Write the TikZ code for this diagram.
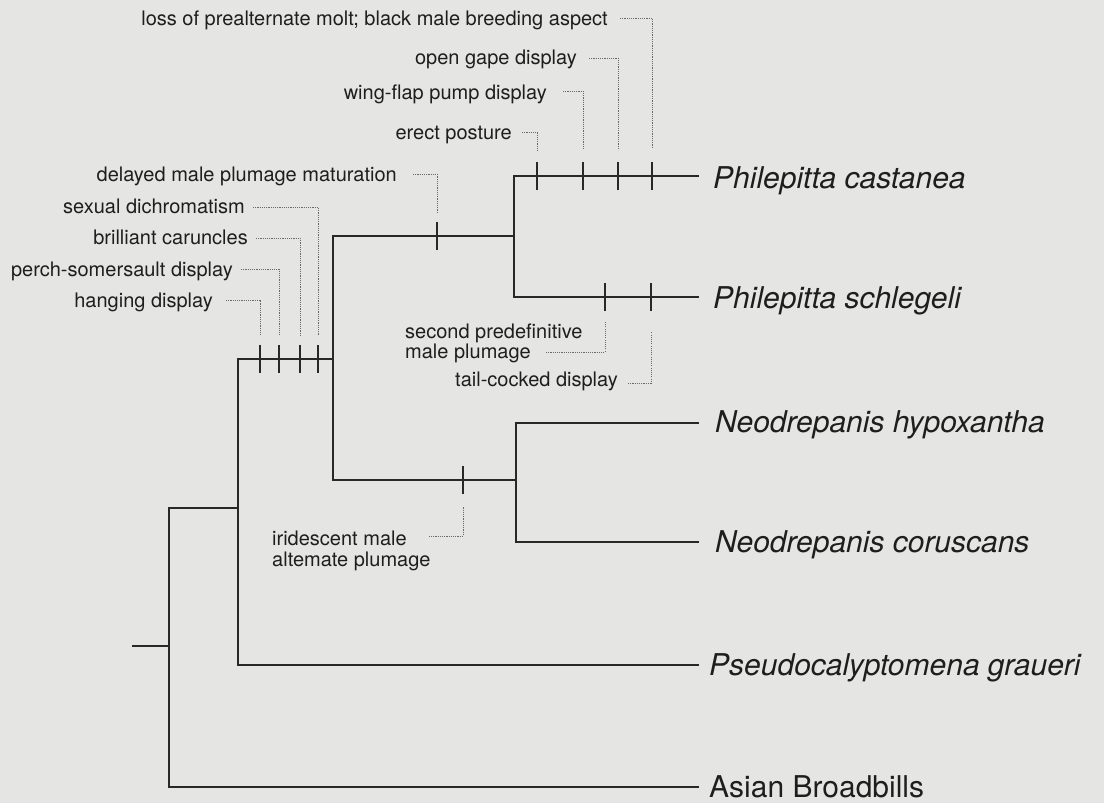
\documentclass[tikz,border=0pt]{standalone}
\usepackage{fontspec}
\setmainfont{TeX Gyre Heros}
\definecolor{bgc}{RGB}{229,229,227}
\definecolor{linec}{RGB}{40,40,40}
\definecolor{textc}{RGB}{30,30,30}
\definecolor{leadc}{RGB}{105,105,105}
\tikzset{
  branch/.style={draw=linec, line width=1.6pt, line cap=rect},
  tickmark/.style={draw=linec, line width=2.6pt},
  leader/.style={draw=leadc, line width=0.9pt, dash pattern=on 1.1pt off 1.1pt},
  trait/.style={font=\fontsize{20}{21}\selectfont, text=textc, inner sep=0pt},
  taxon/.style={font=\fontsize{30}{32}\selectfont\itshape, text=textc, inner sep=0pt, anchor=base west},
  taxonup/.style={font=\fontsize{30}{32}\selectfont, text=textc, inner sep=0pt, anchor=base west},
}
\begin{document}
\begin{tikzpicture}[x=1pt,y=-1pt]
\fill[bgc] (0,0) rectangle (1104,803);
\useasboundingbox (0,0) rectangle (1104,803);

% ---- tree vertices
\coordinate (root) at (133,646);
\coordinate (n0) at (169,646);
\coordinate (n0t) at (169,508);
\coordinate (n0b) at (169,787);
\coordinate (n1m) at (238,508);
\coordinate (n1t) at (238,359);
\coordinate (n1b) at (238,665);
\coordinate (n2l) at (333,359);
\coordinate (n2t) at (333,236);
\coordinate (n2b) at (333,480);
\coordinate (n3l) at (514,236);
\coordinate (n3t) at (514,176);
\coordinate (n3b) at (514,297);
\coordinate (n4l) at (516,480);
\coordinate (n4t) at (516,423);
\coordinate (n4b) at (516,542);
% branch ends
\coordinate (ecas) at (698,176);
\coordinate (esch) at (698,297);
\coordinate (ehyp) at (698,423);
\coordinate (ecor) at (698,542);
\coordinate (epse) at (698,665);
\coordinate (easi) at (698,787);

% ---- taxa
\node[taxon] (cas) at (713,188) {Philepitta castanea};
\node[taxon] (sch) at (713,308) {Philepitta schlegeli};
\node[taxon] (hyp) at (715,432) {Neodrepanis hypoxantha};
\node[taxon] (cor) at (715,552) {Neodrepanis coruscans};
\node[taxon] (pse) at (709,675) {Pseudocalyptomena graueri};
\node[taxonup] (asi) at (709,797) {Asian Broadbills};

% ---- branches
\draw[branch] (root) -- (n0);
\draw[branch] (n0t) -- (n0b);
\draw[branch] (n0t) -- (n1m);
\draw[branch] (n0b) -- (easi);
\draw[branch] (n1t) -- (n1b);
\draw[branch] (n1b) -- (epse);
\draw[branch] (n1t) -- (n2l);
\draw[branch] (n2t) -- (n2b);
\draw[branch] (n2t) -- (n3l);
\draw[branch] (n3t) -- (n3b);
\draw[branch] (n3t) -- (ecas);
\draw[branch] (n3b) -- (esch);
\draw[branch] (n2b) -- (n4l);
\draw[branch] (n4t) -- (n4b);
\draw[branch] (n4t) -- (ehyp);
\draw[branch] (n4b) -- (ecor);

% ---- character ticks
\coordinate (ta) at (260,359);
\coordinate (tb) at (279,359);
\coordinate (tc) at (300,359);
\coordinate (td) at (318,359);
\coordinate (te) at (437,236);
\coordinate (tf) at (537,176);
\coordinate (tg) at (583,176);
\coordinate (th) at (618,176);
\coordinate (ti) at (652,176);
\coordinate (tj) at (605,297);
\coordinate (tk) at (651,297);
\coordinate (tl) at (463,480);
\foreach \t in {ta,tb,tc,td,te,tf,tg,th,ti,tj,tk,tl}
  \draw[tickmark] (\t) ++(0,-14) -- ++(0,28);

% ---- trait labels
\node[trait, anchor=base east] (l1) at (608,25) {loss of prealternate molt; black male breeding aspect};
\node[trait, anchor=base east] (l2) at (577,64) {open gape display};
\node[trait, anchor=base east] (l3) at (547,99) {wing-flap pump display};
\node[trait, anchor=base east] (l4) at (512,139) {erect posture};
\node[trait, anchor=base east] (l5) at (397,181) {delayed male plumage maturation};
\node[trait, anchor=base east] (l6) at (245,213) {sexual dichromatism};
\node[trait, anchor=base east] (l7) at (248,244) {brilliant caruncles};
\node[trait, anchor=base east] (l8) at (233,276) {perch-somersault display};
\node[trait, anchor=base east] (l9) at (213,307) {hanging display};
\node[trait, anchor=base west] (l10a) at (405,338) {second predefinitive};
\node[trait, anchor=base west] (l10b) at (405,358) {male plumage};
\node[trait, anchor=base east] (l11) at (618,386) {tail-cocked display};
\node[trait, anchor=base west] (l12a) at (272,545) {iridescent male};
\node[trait, anchor=base west] (l12b) at (272,566) {altemate plumage};

% ---- leader ends
\coordinate (p1) at (652,148);
\coordinate (p2) at (618,150);
\coordinate (p3) at (583,150);
\coordinate (p4) at (537,152);
\coordinate (p5) at (437,213);
\coordinate (p6) at (318,335);
\coordinate (p7) at (300,335);
\coordinate (p8) at (279,335);
\coordinate (p9) at (260,335);
\coordinate (p10) at (605,322);
\coordinate (p11) at (651,332);
\coordinate (p12) at (463,507);

% ---- leaders
\draw[leader] ([shift={(12pt,7pt)}]l1.base east) -| (p1);
\draw[leader] ([shift={(12pt,6pt)}]l2.base east) -| (p2);
\draw[leader] ([shift={(16pt,8pt)}]l3.base east) -| (p3);
\draw[leader] ([shift={(10pt,7pt)}]l4.base east) -| (p4);
\draw[leader] ([shift={(16pt,7pt)}]l5.base east) -| (p5);
\draw[leader] ([shift={(8pt,6pt)}]l6.base east) -| (p6);
\draw[leader] ([shift={(8pt,6pt)}]l7.base east) -| (p7);
\draw[leader] ([shift={(8pt,7pt)}]l8.base east) -| (p8);
\draw[leader] ([shift={(13pt,7pt)}]l9.base east) -| (p9);
\draw[leader] ([shift={(15pt,6pt)}]l10b.base east) -| (p10);
\draw[leader] ([shift={(10pt,3pt)}]l11.base east) -| (p11);
\draw[leader] ([shift={(22pt,9pt)}]l12a.base east) -| (p12);
\end{tikzpicture}
\end{document}
